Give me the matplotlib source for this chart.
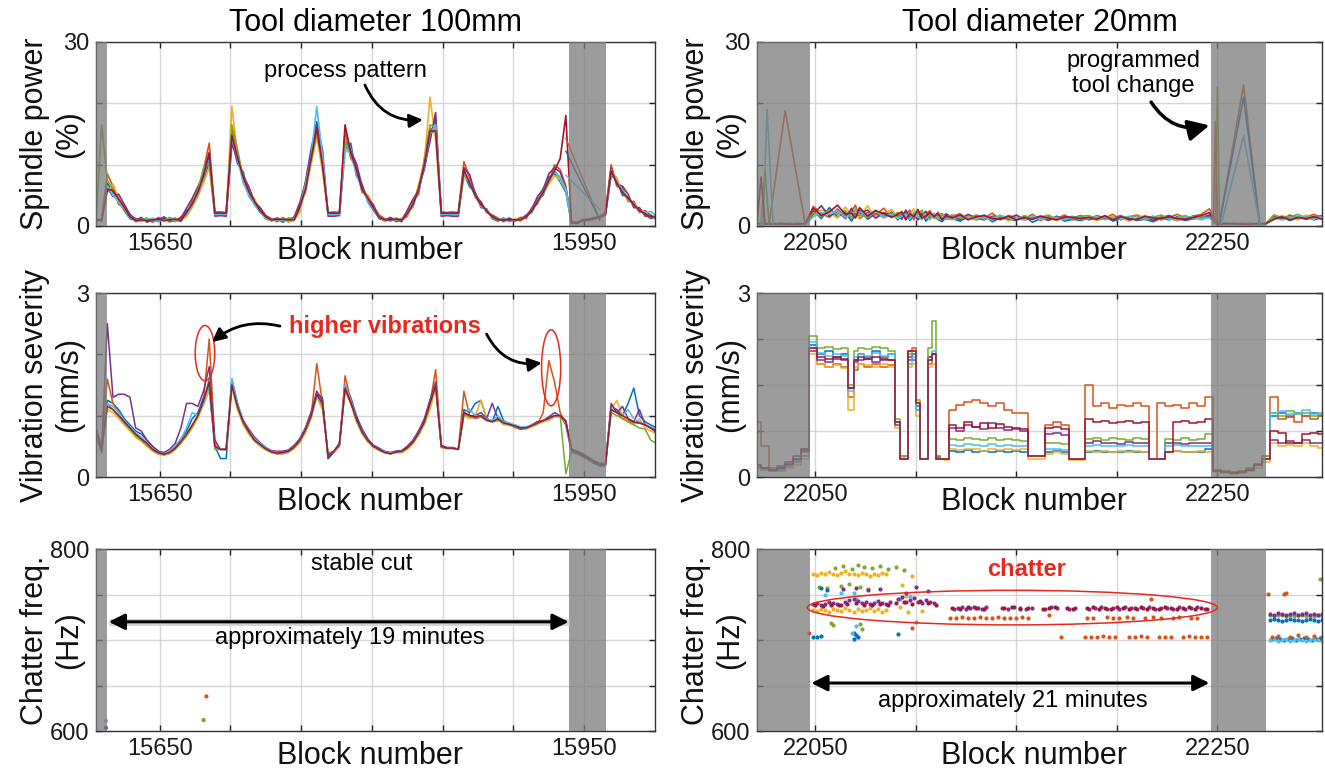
import numpy as np
import matplotlib
matplotlib.use('Agg')
import matplotlib.pyplot as plt
from matplotlib.patches import Ellipse, Rectangle

plt.rcParams['font.family'] = ['Liberation Sans', 'DejaVu Sans']

C = ['#0072BD', '#D95319', '#EDB120', '#7E2F8E', '#77AC30', '#4DBEEE', '#A2142F']

# ---------------- Left column (tool diameter 100mm) ----------------
lx = np.arange(15605, 16002, 4)   # block positions of samples

lp_blue = [1.2, 0.8, 7, 5.5, 4.2, 2.5, 1.2, 0.9, 1.4, 0.6,
           1.1, 0.7, 1.5, 0.9, 1.3, 0.8, 2.5, 3.2, 6.1, 7.5,
           10.5, 2.1, 2.0, 1.9, 14, 10.2, 8.8, 4.9, 3.6, 2.2,
           1.4, 0.8, 1.2, 0.6, 1.3, 1.0, 2.8, 7.2, 12.5, 17,
           11, 1.9, 2.0, 2.0, 12.5, 13.5, 8.2, 6.8, 4.0, 2.6,
           1.3, 0.9, 1.4, 0.7, 1.1, 2.4, 3.1, 6.5, 9.2, 14.5,
           17.5, 2.0, 2.1, 2.0, 2.0, 8.5, 6.4, 5.5, 3.0, 2.8,
           1.2, 0.8, 1.3, 0.7, 1.1, 0.9, 1.8, 2.2, 4.5, 5.0,
           8.0, 8.5, 7.2, 5.5, 0.4, 0.6, 0.8, 1.0, 1.1, 1.4,
           1.9, 8.2, 7.5, 5.0, 4.8, 3.2, 2.9, 1.8, 1.2, 1.6]
lp_orange = [0.8, 1.2, 8.5, 6.5, 3.5, 3.2, 1.8, 0.7, 0.9, 1.3,
             0.6, 1.4, 0.8, 1.2, 0.7, 1.5, 1.8, 4.2, 5.0, 9.2,
             13.5, 2.3, 2.3, 2.2, 16, 12, 7.5, 6.0, 3.8, 2.9,
             1.7, 1.2, 0.7, 1.4, 0.8, 1.5, 3.5, 5.5, 10.5, 15.5,
             9.5, 2.2, 2.3, 2.2, 15.5, 11, 9.8, 5.5, 5.0, 3.3,
             1.8, 1.2, 0.8, 1.3, 0.9, 1.6, 4.0, 5.2, 11, 16,
             15, 2.3, 2.2, 2.3, 2.2, 10.5, 7.8, 4.6, 4.0, 2.2,
             1.8, 1.3, 0.7, 1.2, 0.9, 1.4, 1.2, 3.0, 3.6, 6.2,
             7.0, 10, 9.2, 6.5, 0.6, 0.4, 1.1, 0.9, 1.3, 1.6,
             2.3, 10, 6.5, 6.2, 4.0, 4.0, 2.2, 2.5, 1.8, 1.2]
lp_yellow = [1.0, 1.1, 5.5, 6.8, 4.6, 2.8, 1.4, 1.3, 0.7, 1.0,
             1.3, 0.9, 1.1, 0.6, 1.2, 1.1, 1.5, 3.0, 4.8, 7.0,
             9.5, 1.8, 1.9, 1.8, 19.5, 11.5, 7.0, 5.2, 4.5, 2.4,
             1.1, 0.9, 1.0, 1.2, 0.6, 0.9, 2.2, 6.2, 10, 14.5,
             9.0, 1.8, 1.8, 1.9, 12, 12.5, 8.8, 6.2, 4.8, 2.8,
             1.6, 0.7, 1.1, 0.9, 1.2, 1.8, 3.2, 6.8, 10.5, 21,
             14, 1.8, 1.9, 1.8, 1.9, 8.0, 7.2, 4.8, 3.2, 2.6,
             1.4, 0.9, 1.0, 0.8, 1.2, 0.7, 1.6, 2.6, 4.2, 5.4,
             6.8, 8.2, 7.5, 5.8, 0.5, 0.7, 0.9, 1.2, 1.0, 1.7,
             2.1, 8.8, 7.9, 5.6, 4.2, 3.6, 2.6, 2.2, 1.4, 1.9]
lp_purple = [0.9, 1.0, 6.2, 4.8, 5.2, 3.5, 1.9, 1.1, 1.2, 0.8,
             0.9, 1.2, 1.3, 0.8, 0.9, 1.3, 2.9, 4.5, 6.4, 8.5,
             12, 1.6, 1.7, 1.6, 13.5, 10.8, 8.2, 6.4, 3.9, 3.0,
             1.6, 1.0, 1.3, 0.9, 1.1, 1.4, 3.8, 7.0, 11.8, 16.5,
             12.5, 1.6, 1.6, 1.7, 13.8, 12.2, 10.2, 6.5, 4.2, 3.5,
             1.2, 1.0, 1.3, 1.1, 0.7, 2.6, 4.4, 5.8, 9.6, 13.8,
             18.5, 1.6, 1.7, 1.6, 1.6, 9.5, 8.4, 5.2, 3.8, 2.4,
             1.6, 1.1, 0.9, 1.3, 0.8, 1.2, 1.7, 2.8, 4.8, 6.0,
             8.5, 9.5, 8.8, 6.2, 0.7, 0.5, 1.0, 1.1, 1.4, 1.3,
             1.8, 9.5, 6.8, 6.5, 5.2, 3.0, 3.0, 1.6, 1.7, 1.1]
lp_green = [1.1, 16.5, 7.5, 6.0, 3.8, 2.6, 1.6, 0.8, 1.1, 1.2,
            0.8, 1.0, 0.9, 1.4, 1.0, 0.7, 2.1, 3.8, 5.8, 9.5,
            10.2, 2.0, 2.0, 2.0, 16.5, 12.5, 7.8, 5.8, 3.4, 2.6,
            1.3, 1.1, 0.9, 0.8, 1.2, 1.1, 3.0, 6.8, 10.8, 15,
            10.5, 2.0, 2.0, 2.0, 14, 11.5, 9.0, 5.8, 4.4, 3.1,
            1.4, 1.1, 0.9, 1.2, 1.0, 2.1, 3.6, 6.2, 10.2, 16.5,
            16, 2.0, 2.0, 2.0, 2.0, 9.0, 6.8, 5.0, 3.4, 2.5,
            1.3, 1.0, 1.2, 0.9, 1.0, 1.1, 1.4, 2.4, 3.8, 5.2,
            7.2, 9.0, 7.8, 6.0, 0.5, 0.6, 1.0, 1.0, 1.2, 1.5,
            2.0, 9.2, 7.2, 5.8, 4.6, 3.4, 2.4, 2.0, 1.5, 1.3]
lp_lblue = [1.0, 0.9, 6.5, 5.0, 4.0, 3.0, 1.3, 1.0, 0.8, 1.1,
            1.2, 0.8, 1.0, 1.1, 0.8, 1.0, 1.9, 3.4, 5.2, 7.8,
            11.5, 1.9, 1.9, 1.9, 14.5, 11, 7.2, 5.0, 3.5, 2.3,
            1.2, 0.9, 1.1, 1.0, 0.9, 1.2, 2.9, 6.5, 11.2, 19.5,
            11.5, 1.9, 1.9, 1.9, 12.8, 11.8, 8.5, 6.0, 4.2, 2.9,
            1.5, 0.9, 1.0, 1.0, 1.1, 2.0, 3.4, 6.0, 9.8, 15,
            16.5, 1.9, 1.9, 1.9, 1.9, 8.8, 7.0, 4.9, 3.3, 2.6,
            1.4, 1.0, 1.1, 1.0, 0.9, 1.0, 1.5, 2.5, 4.0, 5.6,
            7.6, 8.8, 8.0, 5.9, 0.5, 0.6, 0.9, 1.1, 1.2, 1.4,
            2.0, 8.6, 7.4, 5.7, 4.4, 3.5, 2.5, 2.1, 2.4, 1.6]
lp_dred = [0.9, 1.0, 6.0, 5.8, 4.4, 3.1, 1.5, 0.9, 1.0, 0.9,
           1.0, 1.1, 0.9, 1.0, 1.1, 0.9, 2.2, 3.6, 5.5, 8.2,
           11.8, 2.1, 2.1, 2.1, 14.8, 11.2, 8.0, 5.6, 4.0, 2.5,
           1.5, 1.0, 1.1, 1.1, 1.0, 1.0, 3.1, 6.0, 11.0, 16,
           10.0, 2.1, 2.1, 2.1, 16.5, 12.0, 9.2, 6.0, 4.6, 3.0,
           1.5, 1.0, 1.0, 1.1, 1.0, 2.0, 3.5, 6.1, 10.0, 15.5,
           15.5, 2.1, 2.1, 2.1, 2.1, 9.2, 7.0, 5.0, 3.5, 2.5,
           1.5, 1.0, 1.0, 1.0, 1.0, 1.0, 1.5, 2.5, 4.0, 5.5,
           7.5, 9.0, 11, 18, 0.5, 0.5, 1.0, 1.0, 1.2, 1.5,
           2.0, 9.0, 7.0, 5.5, 4.5, 3.5, 2.5, 2.0, 1.5, 1.5]
# traces inside the right grey band (tool change)
lp_tc_x = [15937, 15961]
lp_tc_tan = [14.3, 1.0]
lp_tc_blue = [12.2, 1.0]
lp_tc_lblue = [8.3, 2.7]

lv_blue = [0.7, 0.4, 1.25, 1.2, 1.1, 0.95, 0.85, 0.75, 0.7, 0.6,
           0.5, 0.42, 0.36, 0.42, 0.5, 0.62, 0.75, 0.95, 1.05, 1.3,
           1.45, 0.5, 0.3, 0.3, 1.6, 1.2, 0.92, 0.75, 0.6, 0.55,
           0.45, 0.42, 0.38, 0.4, 0.43, 0.5, 0.62, 0.8, 1.05, 1.35,
           1.3, 0.3, 0.4, 0.55, 1.5, 1.3, 1.0, 0.78, 0.62, 0.5,
           0.46, 0.4, 0.38, 0.42, 0.42, 0.5, 0.6, 0.75, 0.92, 1.25,
           1.5, 0.5, 0.47, 0.47, 0.45, 1.1, 1.05, 1.2, 1.25, 0.95,
           0.9, 1.15, 0.92, 0.85, 0.85, 0.8, 0.8, 0.85, 0.9, 0.9,
           0.95, 1.0, 1.0, 0.85, 0.4, 0.38, 0.33, 0.28, 0.22, 0.18,
           0.18, 1.15, 1.1, 1.0, 1.2, 1.45, 1.0, 0.9, 0.85, 0.8]
lv_orange = [0.8, 0.5, 1.6, 1.2, 1.05, 0.9, 0.8, 0.65, 0.6, 0.55,
             0.45, 0.38, 0.36, 0.38, 0.45, 0.55, 0.68, 0.82, 1.0, 1.25,
             2.25, 0.55, 0.45, 0.45, 1.5, 1.15, 0.88, 0.72, 0.6, 0.52,
             0.45, 0.4, 0.38, 0.38, 0.4, 0.48, 0.58, 0.75, 0.98, 1.85,
             1.2, 0.35, 0.4, 0.5, 1.65, 1.25, 0.95, 0.72, 0.58, 0.5,
             0.44, 0.4, 0.38, 0.4, 0.4, 0.46, 0.55, 0.7, 0.88, 1.2,
             1.75, 0.5, 0.48, 0.48, 0.45, 1.4, 1.0, 0.95, 0.98, 0.92,
             0.9, 0.95, 0.88, 0.86, 0.82, 0.8, 0.8, 0.82, 0.86, 1.05,
             1.9, 1.55, 1.05, 0.88, 0.45, 0.4, 0.35, 0.3, 0.25, 0.2,
             0.2, 1.1, 1.05, 0.95, 0.92, 0.88, 0.88, 0.85, 0.8, 0.75]
lv_yellow = [0.7, 0.5, 1.1, 1.05, 0.95, 0.85, 0.75, 0.65, 0.58, 0.5,
             0.42, 0.37, 0.36, 0.38, 0.45, 0.55, 0.66, 0.8, 0.96, 1.18,
             1.4, 0.55, 0.45, 0.45, 1.45, 1.1, 0.85, 0.7, 0.58, 0.5,
             0.44, 0.4, 0.38, 0.38, 0.4, 0.46, 0.56, 0.72, 0.95, 1.3,
             1.1, 0.4, 0.42, 0.52, 1.4, 1.2, 0.9, 0.7, 0.58, 0.48,
             0.43, 0.4, 0.37, 0.4, 0.4, 0.45, 0.55, 0.68, 0.85, 1.1,
             1.45, 0.48, 0.46, 0.46, 0.45, 1.0, 0.95, 1.0, 1.25, 0.95,
             0.9, 0.95, 0.85, 0.85, 0.8, 0.78, 0.78, 0.82, 0.86, 0.9,
             0.92, 0.98, 0.98, 0.88, 0.45, 0.42, 0.36, 0.3, 0.26, 0.22,
             0.22, 1.1, 1.25, 1.0, 0.9, 0.85, 0.95, 0.8, 0.75, 0.7]
lv_purple = [0.75, 0.45, 2.5, 1.3, 1.35, 1.35, 1.3, 0.8, 0.75, 0.6,
             0.5, 0.42, 0.4, 0.45, 0.55, 0.8, 1.2, 1.2, 1.15, 1.4,
             1.8, 0.6, 0.45, 0.45, 1.55, 1.15, 0.92, 0.78, 0.65, 0.56,
             0.48, 0.43, 0.42, 0.42, 0.44, 0.52, 0.62, 0.8, 1.05, 1.4,
             1.25, 0.3, 0.42, 0.55, 1.45, 1.2, 0.98, 0.78, 0.62, 0.52,
             0.47, 0.42, 0.4, 0.42, 0.43, 0.5, 0.6, 0.75, 0.95, 1.25,
             1.55, 0.52, 0.48, 0.48, 0.45, 1.05, 1.0, 1.0, 1.05, 0.95,
             1.2, 0.95, 0.9, 0.88, 0.82, 0.78, 0.8, 0.85, 0.9, 0.92,
             0.98, 1.05, 1.0, 0.92, 0.45, 0.42, 0.38, 0.32, 0.26, 0.22,
             0.22, 1.2, 1.05, 1.15, 0.95, 0.9, 1.1, 0.85, 0.8, 0.72]
lv_green = [0.7, 0.5, 1.2, 1.1, 1.0, 0.88, 0.78, 0.68, 0.6, 0.52,
            0.44, 0.38, 0.37, 0.4, 0.46, 0.56, 0.68, 0.82, 1.0, 1.22,
            1.6, 0.45, 0.45, 0.45, 1.5, 1.12, 0.88, 0.72, 0.6, 0.52,
            0.45, 0.4, 0.38, 0.39, 0.42, 0.48, 0.58, 0.75, 0.98, 1.35,
            1.15, 0.38, 0.42, 0.52, 1.45, 1.22, 0.92, 0.72, 0.58, 0.5,
            0.44, 0.4, 0.38, 0.4, 0.41, 0.47, 0.56, 0.7, 0.88, 1.18,
            1.5, 0.48, 0.47, 0.47, 0.45, 1.02, 0.98, 0.96, 0.98, 0.92,
            0.9, 0.92, 0.88, 0.85, 0.82, 0.8, 0.8, 0.84, 0.88, 0.92,
            0.95, 1.0, 1.0, 0.05, 0.42, 0.38, 0.33, 0.28, 0.24, 0.2,
            0.2, 1.05, 1.0, 0.95, 0.9, 0.85, 0.8, 0.78, 0.6, 0.55]
lv_lblue = [0.72, 0.48, 1.2, 1.15, 1.05, 0.92, 0.82, 0.72, 0.65, 0.56,
            0.46, 0.4, 0.38, 0.42, 0.5, 0.62, 0.8, 1.05, 1.0, 1.2,
            1.5, 0.5, 0.45, 0.45, 1.6, 1.2, 0.9, 0.75, 0.62, 0.55,
            0.47, 0.42, 0.4, 0.4, 0.42, 0.5, 0.6, 0.78, 1.0, 1.3,
            1.2, 0.35, 0.42, 0.52, 1.5, 1.25, 0.95, 0.75, 0.6, 0.5,
            0.45, 0.41, 0.39, 0.41, 0.42, 0.48, 0.58, 0.72, 0.9, 1.2,
            1.5, 0.5, 0.47, 0.47, 0.45, 1.05, 1.1, 1.0, 1.0, 0.95,
            0.92, 1.0, 0.9, 0.88, 0.85, 0.82, 0.82, 0.85, 0.88, 0.92,
            0.95, 1.0, 1.0, 0.9, 0.45, 0.4, 0.35, 0.3, 0.25, 0.2,
            0.2, 1.1, 1.05, 1.0, 1.1, 0.95, 0.9, 0.85, 0.82, 0.78]
lv_dred = [0.75, 0.45, 1.15, 1.1, 1.0, 0.9, 0.8, 0.7, 0.62, 0.55,
           0.45, 0.4, 0.37, 0.4, 0.47, 0.58, 0.7, 0.85, 1.0, 1.25,
           1.55, 0.5, 0.45, 0.45, 1.5, 1.15, 0.9, 0.74, 0.6, 0.53,
           0.46, 0.41, 0.39, 0.4, 0.42, 0.49, 0.6, 0.77, 1.0, 1.35,
           1.2, 0.35, 0.42, 0.53, 1.45, 1.22, 0.95, 0.74, 0.6, 0.5,
           0.45, 0.4, 0.38, 0.41, 0.42, 0.48, 0.57, 0.72, 0.9, 1.2,
           1.5, 0.5, 0.47, 0.47, 0.45, 1.05, 1.0, 0.98, 1.0, 0.93,
           0.9, 0.95, 0.88, 0.86, 0.83, 0.8, 0.8, 0.84, 0.88, 0.92,
           0.96, 1.0, 1.0, 0.9, 0.45, 0.4, 0.35, 0.3, 0.25, 0.2,
           0.2, 1.1, 1.05, 1.0, 0.95, 0.9, 0.88, 0.85, 0.8, 0.75]

lc_x = [15612, 15612, 15683, 15681, 15681]
lc_y = [611, 603.5, 638, 612, 612]
lc_col = [C[5], C[3], C[1], C[2], C[4]]

# ---------------- Right column (tool diameter 20mm) ----------------
rx = [22021, 22025, 22029, 22033, 22037, 22041, 22045,
      22049, 22053, 22057, 22061, 22065, 22068, 22070, 22072, 22076, 22080, 22084, 22088,
      22091, 22093, 22095, 22097, 22099, 22101, 22103, 22105, 22107, 22109, 22111, 22113, 22115,
      22118, 22122, 22126, 22130, 22134, 22138, 22142, 22146, 22150, 22154, 22158, 22162, 22166, 22170, 22174, 22178, 22182,
      22186, 22190, 22194, 22198, 22202, 22206, 22210, 22214, 22218, 22222, 22226, 22230, 22234, 22238, 22242, 22246,
      22250, 22254, 22258, 22262, 22266, 22270, 22274,
      22278, 22282, 22286, 22290, 22294, 22298, 22302]

rp_blue = [0.3, 0.4, 0.3, 0.3, 0.4, 0.3, 0.4,
           2.5, 1.2, 3.0, 1.5, 2.2, 0.8, 1.9, 2.6, 1.1, 2.0, 1.4, 2.3,
           1.0, 1.8, 2.4, 0.9, 1.6, 1.2, 2.1, 0.8, 1.5, 2.0, 1.1, 0.7, 1.4,
           1.2, 0.8, 1.5, 1.0, 1.8, 0.7, 1.3, 1.1, 0.9, 1.6, 0.6, 1.2, 1.0, 1.5, 0.8, 1.1, 0.9,
           1.3, 1.0, 1.6, 0.8, 1.2, 1.4, 0.9, 1.1, 0.7, 1.3, 1.0, 1.5, 0.9, 1.2, 1.4, 1.8,
           0.3, 0.4, 0.3, 0.3, 0.4, 0.3, 0.4,
           1.2, 1.5, 0.9, 1.3, 1.6, 1.0, 1.4]
rp_orange = [0.4, 0.3, 0.4, 0.3, 0.3, 0.4, 0.3,
             3.2, 2.0, 1.4, 2.8, 1.6, 2.4, 3.4, 1.2, 2.2, 1.8, 2.9, 1.5,
             2.2, 1.3, 1.9, 2.6, 1.0, 2.3, 1.5, 1.9, 2.5, 1.2, 1.7, 2.0, 1.1,
             1.6, 2.0, 1.1, 1.8, 1.3, 2.1, 1.0, 1.7, 1.4, 1.2, 1.9, 0.9, 1.5, 1.2, 1.8, 1.0, 1.4,
             1.1, 1.7, 1.3, 1.9, 1.0, 1.5, 1.8, 1.2, 1.6, 1.0, 1.4, 1.9, 1.3, 1.6, 1.9, 2.8,
             0.4, 0.3, 0.4, 0.4, 0.3, 0.4, 0.3,
             1.6, 1.1, 1.8, 1.2, 1.5, 1.9, 1.3]
rp_yellow = [0.3, 0.3, 0.4, 0.4, 0.3, 0.3, 0.4,
             1.8, 2.6, 2.2, 1.3, 3.1, 1.7, 2.4, 1.5, 3.3, 1.2, 2.0, 2.7,
             1.5, 2.4, 1.2, 1.8, 2.8, 1.4, 1.0, 2.2, 1.6, 1.3, 2.3, 1.5, 1.8,
             1.0, 1.4, 1.7, 0.9, 1.5, 1.2, 1.8, 0.8, 1.3, 1.5, 1.0, 1.7, 1.2, 0.9, 1.4, 1.6, 1.1,
             1.5, 0.9, 1.2, 1.6, 1.3, 0.8, 1.4, 1.7, 1.1, 1.5, 1.2, 0.8, 1.6, 1.3, 1.0, 1.5,
             0.3, 0.3, 0.4, 0.3, 0.3, 0.4, 0.3,
             1.0, 1.7, 1.3, 1.0, 1.8, 1.2, 1.5]
rp_purple = [0.4, 0.4, 0.3, 0.4, 0.3, 0.4, 0.3,
             2.0, 3.3, 1.6, 2.4, 1.2, 2.9, 1.5, 2.0, 2.6, 1.3, 2.2, 1.7,
             1.7, 1.1, 2.6, 1.4, 2.0, 1.0, 1.8, 2.4, 1.2, 1.9, 1.4, 1.2, 2.0,
             1.4, 1.1, 1.9, 1.3, 1.0, 1.6, 1.4, 1.2, 1.8, 1.0, 1.3, 1.5, 0.9, 1.6, 1.1, 1.3, 1.7,
             1.0, 1.4, 1.1, 1.3, 1.7, 1.0, 1.2, 1.5, 0.9, 1.4, 1.7, 1.1, 1.0, 1.6, 1.2, 1.6,
             0.4, 0.4, 0.3, 0.4, 0.4, 0.3, 0.3,
             1.4, 1.2, 1.6, 1.5, 1.1, 1.4, 1.7]
rp_green = [0.3, 0.4, 0.4, 0.3, 0.4, 0.3, 0.4,
            2.2, 1.5, 2.7, 1.9, 2.5, 1.3, 2.8, 1.8, 1.4, 2.4, 1.6, 2.1,
            1.4, 2.1, 1.5, 2.2, 1.3, 1.8, 2.6, 1.2, 1.9, 1.6, 1.0, 1.8, 1.5,
            1.8, 1.3, 1.2, 1.7, 1.1, 1.4, 1.6, 1.3, 1.1, 1.7, 1.2, 1.4, 1.8, 1.1, 1.5, 1.2, 1.6,
            1.7, 1.2, 1.5, 1.1, 1.6, 1.3, 1.7, 1.0, 1.4, 1.8, 1.1, 1.3, 1.7, 1.1, 1.5, 1.3,
            0.4, 0.3, 0.3, 0.4, 0.3, 0.3, 0.4,
            1.8, 1.4, 1.5, 1.9, 1.3, 1.6, 1.2]
rp_lblue = [0.3, 0.3, 0.3, 0.4, 0.3, 0.4, 0.3,
            1.5, 2.2, 1.9, 2.5, 1.4, 2.0, 1.6, 2.3, 1.8, 2.6, 1.3, 1.9,
            1.2, 1.6, 1.9, 1.1, 2.2, 1.5, 1.2, 1.7, 1.0, 2.1, 1.3, 1.6, 1.1,
            1.1, 1.6, 1.3, 1.2, 1.5, 1.0, 1.7, 1.4, 1.2, 1.0, 1.6, 1.1, 1.3, 1.4, 1.0, 1.5, 1.2,
            1.2, 1.5, 1.0, 1.4, 1.1, 1.6, 1.0, 1.3, 1.5, 1.1, 1.3, 1.0, 1.4, 1.5, 1.1, 1.4,
            0.3, 0.4, 0.3, 0.3, 0.4, 0.4, 0.3,
            1.3, 1.0, 1.2, 1.6, 1.4, 1.1, 1.6]
rp_dred = [0.4, 0.3, 0.3, 0.4, 0.3, 0.3, 0.4,
           2.9, 1.7, 2.3, 3.4, 1.9, 2.1, 1.3, 3.0, 1.6, 2.5, 2.0, 1.4,
           1.9, 2.3, 1.0, 2.0, 1.5, 2.7, 1.3, 1.6, 2.2, 1.5, 2.1, 1.0, 1.7,
           1.3, 1.8, 1.0, 1.5, 1.7, 1.2, 1.1, 1.6, 1.0, 1.4, 1.1, 1.6, 1.3, 1.0, 1.5, 1.4, 1.2,
           1.4, 1.1, 1.7, 1.0, 1.5, 1.2, 1.0, 1.6, 1.3, 1.2, 1.5, 1.2, 1.1, 1.4, 1.7, 2.2,
           0.3, 0.4, 0.4, 0.3, 0.3, 0.4, 0.4,
           1.1, 1.5, 1.0, 1.4, 1.2, 1.5, 1.1]
# tool-change traces inside the grey bands
rp_tc = [  # (colour index, blocks, values)
    (1, [22027, 22035, 22045], [0.3, 18.8, 0.3]),
    (5, [22024, 22026, 22029], [0.3, 19.0, 0.3]),
    (4, [22023, 22025, 22027], [0.3, 9.0, 0.3]),
    (6, [22021, 22023, 22025], [0.3, 8.0, 0.3]),
    (1, [22251, 22263, 22271], [0.5, 23.0, 0.3]),
    (0, [22251, 22263, 22271], [0.5, 21.0, 0.3]),
    (5, [22252, 22263, 22271], [0.5, 14.7, 0.3]),
    (4, [22249, 22250, 22251], [0.5, 22.7, 0.5]),
    (1, [22248, 22249, 22250], [0.5, 17.0, 0.5]),
]

rv_blue = [0.15, 0.12, 0.1, 0.12, 0.18, 0.25, 0.35,
           2.15, 2.0, 2.05, 1.95, 2.0, 1.45, 1.9, 2.0, 1.95, 2.05, 1.95, 2.0,
           0.9, 0.3, 0.3, 1.9, 2.0, 1.1, 0.3, 0.3, 1.95, 2.0, 0.3, 0.3, 0.3,
           0.42, 0.4, 0.44, 0.4, 0.42, 0.4, 0.43, 0.4, 0.42, 0.4, 0.35, 0.35, 0.4, 0.42, 0.4, 0.3, 0.3,
           0.4, 0.42, 0.4, 0.41, 0.4, 0.42, 0.4, 0.4, 0.3, 0.3, 0.4, 0.42, 0.4, 0.41, 0.4, 0.45,
           0.1, 0.08, 0.06, 0.08, 0.12, 0.2, 0.3,
           1.0, 1.05, 0.98, 1.05, 1.0, 1.05, 1.0]
rv_orange = [0.9, 0.5, 0.15, 0.15, 0.2, 0.3, 0.45,
             2.1, 1.85, 1.8, 1.85, 1.8, 1.3, 1.75, 1.85, 1.8, 1.85, 1.8, 1.82,
             0.9, 0.35, 0.35, 2.05, 2.1, 1.2, 0.3, 0.3, 1.85, 2.0, 0.35, 0.3, 0.3,
             1.1, 1.18, 1.22, 1.25, 1.2, 1.15, 1.2, 1.1, 1.05, 1.05, 0.35, 0.35, 0.85, 0.9, 0.85, 0.3, 0.3,
             1.5, 1.15, 1.2, 1.12, 1.18, 1.15, 1.2, 1.15, 0.3, 1.2, 1.15, 1.18, 1.12, 1.2, 1.15, 1.3,
             0.12, 0.1, 0.08, 0.1, 0.15, 0.22, 0.35,
             1.3, 0.95, 1.0, 0.9, 1.0, 0.95, 1.0]
rv_yellow = [0.15, 0.12, 0.1, 0.1, 0.15, 0.2, 0.3,
             2.0, 1.85, 1.8, 1.82, 1.78, 1.1, 1.8, 1.85, 1.82, 1.8, 1.85, 1.8,
             0.8, 0.3, 0.3, 1.8, 1.85, 1.0, 0.3, 0.3, 1.8, 1.85, 0.3, 0.3, 0.28,
             0.45, 0.44, 0.46, 0.45, 0.43, 0.45, 0.44, 0.46, 0.44, 0.45, 0.3, 0.3, 0.38, 0.4, 0.38, 0.28, 0.28,
             0.42, 0.4, 0.42, 0.41, 0.43, 0.4, 0.42, 0.41, 0.3, 0.3, 0.4, 0.42, 0.41, 0.4, 0.42, 0.4,
             0.08, 0.06, 0.05, 0.06, 0.1, 0.15, 0.25,
             0.55, 0.5, 0.52, 0.5, 0.55, 0.5, 0.48]
rv_purple = [0.2, 0.15, 0.12, 0.18, 0.25, 0.35, 0.45,
             2.05, 1.9, 1.88, 1.92, 1.9, 1.45, 1.88, 1.9, 1.92, 1.88, 1.9, 1.9,
             0.85, 0.3, 0.3, 1.95, 1.9, 1.15, 0.3, 0.3, 1.95, 2.0, 0.32, 0.3, 0.3,
             0.8, 0.75, 0.85, 0.82, 0.78, 0.88, 0.8, 0.76, 0.78, 0.75, 0.35, 0.35, 0.7, 0.72, 0.68, 0.3, 0.3,
             0.55, 0.58, 0.55, 0.56, 0.54, 0.57, 0.55, 0.56, 0.3, 0.3, 0.55, 0.56, 0.54, 0.55, 0.56, 0.55,
             0.1, 0.08, 0.06, 0.08, 0.12, 0.2, 0.3,
             0.6, 0.55, 0.58, 0.55, 0.6, 0.56, 0.55]
rv_green = [0.18, 0.15, 0.12, 0.15, 0.2, 0.28, 0.4,
            2.3, 2.1, 2.12, 2.08, 2.1, 1.5, 2.05, 2.1, 2.08, 2.12, 2.1, 2.05,
            0.95, 0.3, 0.35, 2.0, 2.05, 1.25, 0.3, 0.3, 2.1, 2.55, 0.35, 0.3, 0.3,
            0.62, 0.6, 0.64, 0.62, 0.6, 0.63, 0.6, 0.62, 0.6, 0.58, 0.35, 0.35, 0.55, 0.56, 0.54, 0.3, 0.3,
            0.62, 0.64, 0.6, 0.63, 0.62, 0.6, 0.64, 0.62, 0.3, 0.3, 0.62, 0.6, 0.63, 0.6, 0.62, 0.7,
            0.12, 0.1, 0.08, 0.1, 0.14, 0.22, 0.35,
            1.05, 1.0, 1.08, 1.02, 1.05, 1.0, 1.02]
rv_lblue = [0.15, 0.12, 0.1, 0.12, 0.18, 0.25, 0.35,
            2.2, 2.02, 1.98, 2.0, 1.98, 1.4, 1.95, 2.0, 1.98, 2.02, 1.98, 2.0,
            0.9, 0.3, 0.3, 1.85, 1.95, 1.1, 0.3, 0.3, 1.9, 2.05, 0.3, 0.3, 0.3,
            0.52, 0.5, 0.54, 0.52, 0.5, 0.53, 0.5, 0.52, 0.5, 0.5, 0.35, 0.35, 0.45, 0.46, 0.44, 0.3, 0.3,
            0.5, 0.52, 0.5, 0.51, 0.5, 0.52, 0.5, 0.5, 0.3, 0.3, 0.5, 0.52, 0.5, 0.51, 0.5, 0.5,
            0.1, 0.08, 0.06, 0.08, 0.12, 0.2, 0.3,
            1.05, 1.08, 1.02, 1.05, 1.1, 1.02, 1.05]
rv_dred = [0.2, 0.15, 0.12, 0.15, 0.22, 0.3, 0.42,
           2.1, 1.95, 1.92, 1.95, 1.92, 1.45, 1.9, 1.95, 1.92, 1.95, 1.92, 1.9,
           0.9, 0.3, 0.3, 2.05, 2.05, 1.2, 0.3, 0.3, 1.9, 2.0, 0.3, 0.3, 0.3,
           0.85, 0.8, 0.9, 0.82, 0.88, 0.8, 0.86, 0.82, 0.8, 0.78, 0.35, 0.35, 0.8, 0.82, 0.78, 0.3, 0.3,
           0.95, 0.9, 0.92, 0.88, 0.9, 0.92, 0.88, 0.9, 0.3, 0.3, 0.4, 0.9, 0.92, 0.88, 0.9, 0.95,
           0.1, 0.08, 0.06, 0.08, 0.12, 0.2, 0.3,
           0.75, 0.72, 0.55, 0.55, 0.7, 0.72, 0.7]

# chatter frequency points (right)
ch_yel_x = [22049, 22051, 22053, 22055, 22057, 22059, 22061, 22063, 22065, 22067, 22069, 22071, 22073, 22075,
            22077, 22079, 22081, 22083, 22085, 22093, 22095, 22098,
            22049, 22051, 22053, 22055, 22057, 22059, 22061, 22063, 22065, 22067, 22069, 22071, 22073, 22075,
            22077, 22079, 22081, 22083, 22085, 22092, 22096, 22103]
ch_yel_y = [773, 771, 774, 772, 775, 773, 771, 774, 776, 772, 773, 771, 774, 772,
            770, 773, 771, 774, 772, 760, 748, 770,
            733, 732, 734, 733, 731, 734, 733, 732, 735, 733, 731, 734, 732, 733,
            735, 732, 734, 731, 733, 736, 731, 732]
ch_grn_x = [22060, 22064, 22068, 22071, 22074, 22078, 22082, 22086, 22090, 22094,
            22052, 22056, 22063, 22067, 22072, 22076, 22058, 22059, 22072, 22073, 22100, 22301,
            22276, 22278, 22280, 22282, 22284, 22286, 22288, 22290, 22292, 22294, 22296, 22298, 22300, 22302]
ch_grn_y = [779, 781, 778, 782, 780, 779, 781, 778, 780, 777,
            758, 757, 759, 762, 758, 756, 719, 717, 718, 712, 720, 767,
            727, 726, 727, 728, 726, 727, 726, 727, 728, 726, 727, 726, 727, 726]
ch_pur_x = [22049, 22051, 22053, 22055, 22057, 22059, 22061, 22063, 22065, 22067,
            22069, 22071, 22073, 22075, 22077, 22079, 22081, 22083, 22085, 22087,
            22091, 22093, 22095, 22097, 22099, 22101, 22103, 22105, 22107, 22109,
            22064, 22070, 22076, 22082, 22095, 22100, 22106,
            22119, 22121, 22123, 22125, 22127, 22129, 22131, 22133, 22135, 22143,
            22146, 22149, 22152, 22155, 22158, 22164, 22167, 22170, 22176, 22179,
            22186, 22189, 22192, 22195, 22198, 22201, 22204, 22207, 22210, 22213,
            22216, 22219, 22222, 22225, 22228, 22231, 22234, 22237, 22240, 22244,
            22276, 22278, 22280, 22282, 22284, 22286, 22288, 22290, 22292, 22294, 22296, 22298, 22300, 22302]
ch_pur_y = [740, 741, 739, 740, 742, 741, 740, 739, 742, 744,
            745, 743, 741, 742, 740, 741, 743, 741, 740, 742,
            745, 747, 742, 744, 746, 742, 741, 744, 742, 741,
            756, 757, 755, 756, 752, 758, 754,
            734, 735, 736, 734, 735, 736, 735, 734, 736, 735,
            734, 736, 735, 734, 735, 734, 736, 735, 734, 735,
            734, 735, 736, 734, 735, 734, 736, 735, 734, 735,
            736, 734, 735, 735, 734, 736, 734, 735, 736, 734,
            729, 728, 730, 729, 728, 729, 730, 728, 729, 730, 728, 729, 728, 729]
ch_red_x = [22050, 22054, 22058, 22062, 22066, 22070, 22074, 22078, 22082, 22086,
            22090, 22094, 22098, 22102, 22106, 22110,
            22118, 22122, 22126, 22130, 22134, 22144, 22148, 22152, 22156, 22163,
            22166, 22169, 22175, 22178, 22185, 22188, 22191, 22194, 22197, 22200,
            22203, 22206, 22209, 22212, 22215, 22218, 22221, 22224, 22227, 22230,
            22233, 22236, 22239, 22242, 22245]
ch_red_y = [738, 737, 739, 738, 740, 741, 739, 738, 740, 739,
            741, 742, 740, 743, 741, 739,
            735, 734, 736, 735, 734, 735, 736, 734, 735, 734,
            735, 736, 735, 734, 735, 736, 734, 735, 734, 736,
            735, 734, 735, 736, 734, 735, 734, 736, 735, 734,
            735, 736, 734, 735, 734]
ch_org_x = [22117, 22120, 22123, 22126, 22129, 22132, 22135, 22138, 22141, 22144,
            22147, 22150, 22153, 22156, 22166, 22185, 22188, 22195, 22198, 22201,
            22205, 22208, 22214, 22218, 22222, 22228, 22231, 22237, 22240,
            22172, 22184, 22187, 22190, 22193, 22196, 22199, 22206, 22209, 22212,
            22215, 22221, 22224, 22227, 22233, 22236, 22239, 22242, 22245,
            22217, 22098, 22047,
            22275, 22283, 22284, 22277, 22280, 22286, 22290, 22294, 22298, 22302]
ch_org_y = [724, 724, 725, 724, 724, 725, 724, 724, 725, 724,
            724, 724, 725, 724, 728, 724, 724, 725, 724, 724,
            725, 724, 724, 725, 724, 724, 725, 724, 724,
            703, 703, 703, 703, 704, 703, 703, 703, 703, 704,
            703, 703, 703, 703, 703, 704, 703, 703, 703,
            745.5, 713, 708,
            751, 751, 752, 703, 704, 703, 705, 703, 704, 703]
ch_blu_x = [22049, 22051, 22053, 22069, 22070, 22071, 22069, 22091, 22053, 22056,
            22276, 22278, 22280, 22282, 22284, 22286, 22288, 22290, 22292, 22294, 22296, 22298, 22300, 22302,
            22277, 22279, 22281, 22283, 22285, 22287, 22289, 22291, 22293, 22295, 22297, 22299, 22301]
ch_blu_y = [703, 703, 704, 701, 705, 703, 708, 707, 757, 755,
            722, 723, 722, 721, 722, 723, 722, 722, 721, 722, 723, 722, 721, 722,
            701, 702, 701, 700, 701, 702, 700, 701, 702, 701, 700, 701, 702]
ch_lbl_x = [22068, 22069, 22070, 22070, 22092, 22097, 22055, 22063,
            22276, 22278, 22280, 22282, 22284, 22286, 22288, 22290, 22292, 22294, 22296, 22298, 22300, 22302]
ch_lbl_y = [708, 752, 745, 715, 745, 748, 750, 752,
            700, 701, 699, 700, 701, 699, 700, 701, 700, 699, 700, 701, 700, 699]

# ---------------- drawing ----------------
W, H = 1325, 772
fig = plt.figure(figsize=(W / 100, H / 100), dpi=100)


def rect(x0, x1, y0, y1):
    return [x0 / W, 1 - y1 / H, (x1 - x0) / W, (y1 - y0) / H]


cols = [(96, 655), (757, 1322)]
rows = [(42, 226), (293, 477), (549, 731)]
axs = [[fig.add_axes(rect(c[0], c[1], r[0], r[1])) for c in cols] for r in rows]

LXLIM = (15605, 16000)
RXLIM = (22021, 22302)
LGRAY = [(15605, 15613), (15939.5, 15965.6)]
RGRAY = [(22021, 22047.5), (22246.8, 22274)]
LXT = [15650, 15700, 15750, 15800, 15850, 15900, 15950]
LXL = ['15650', '', '', '', '', '', '15950']
RXT = [22050, 22100, 22150, 22200, 22250]
RXL = ['22050', '', '', '', '22250']

ylabels = [('Spindle power', '(%)'), ('Vibration severity', '(mm/s)'), ('Chatter freq.', '(Hz)')]


def style(ax, xlim, xt, xl, ylim, yt, yl, gray, ylab):
    ax.set_xlim(*xlim)
    ax.set_ylim(*ylim)
    ax.set_xticks(xt)
    ax.set_xticklabels(xl)
    ax.set_yticks(yt)
    ax.set_yticklabels(yl)
    ax.grid(True, color='#d6d6d6', lw=1.0)
    ax.set_axisbelow(True)
    ax.tick_params(direction='in', length=4, width=1, top=True, right=True,
                   labelsize=17, pad=5, color='#222222', labelcolor='#1a1a1a')
    for s in ax.spines.values():
        s.set_color('#333333')
        s.set_linewidth(1.0)
    for g0, g1 in gray:
        ax.add_patch(Rectangle((g0, ylim[0]), g1 - g0, ylim[1] - ylim[0],
                               facecolor='#7b7b7b', edgecolor='none', alpha=0.75, zorder=3))
    ax.text(0.49, -0.135, 'Block number', transform=ax.transAxes, ha='center', va='center',
            fontsize=22, color='#111111')
    w = ax.get_position().width * W
    ax.text(-61.0 / w, 0.5, ylab[0], transform=ax.transAxes, ha='center', va='center',
            rotation=90, fontsize=22, color='#111111')
    ax.text(-27.0 / w, 0.5, ylab[1], transform=ax.transAxes, ha='center', va='center',
            rotation=90, fontsize=22, color='#111111')


def lines(ax, x, series, lw=1.0, ds='default'):
    for i, s in enumerate(series):
        ax.plot(x, s, color=C[i], lw=lw, drawstyle=ds, zorder=2)


# Row 1: spindle power
ax = axs[0][0]
lines(ax, lx, [lp_blue, lp_orange, lp_yellow, lp_purple, lp_green, lp_lblue, lp_dred], lw=1.2)
ax.plot(lp_tc_x, lp_tc_tan, color=C[1], lw=1, zorder=2)
ax.plot(lp_tc_x, lp_tc_blue, color=C[0], lw=1, zorder=2)
ax.plot(lp_tc_x, lp_tc_lblue, color=C[5], lw=1, zorder=2)
style(ax, LXLIM, LXT, LXL, (0, 30), [0, 10, 20, 30], ['0', '', '', '30'], LGRAY, ylabels[0])
ax.set_title('Tool diameter 100mm', fontsize=22, pad=8)
ax.text(15781, 25.3, 'process pattern', fontsize=17, ha='center', va='center', zorder=6)
ax.annotate('', xy=(15836, 17.3), xytext=(15795, 23.0),
            arrowprops=dict(arrowstyle='-|>', color='k', lw=2, mutation_scale=20,
                            connectionstyle='arc3,rad=0.35', shrinkA=0, shrinkB=0), zorder=6)

ax = axs[0][1]
lines(ax, rx, [rp_blue, rp_orange, rp_yellow, rp_purple, rp_green, rp_lblue, rp_dred], lw=1.2)
for ci, bx, by in rp_tc:
    ax.plot(bx, by, color=C[ci], lw=1.2, zorder=2)
style(ax, RXLIM, RXT, RXL, (0, 30), [0, 10, 20, 30], ['0', '', '', '30'], RGRAY, ylabels[0])
ax.set_title('Tool diameter 20mm', fontsize=22, pad=8)
ax.text(22208, 24.9, 'programmed\ntool change', fontsize=17, ha='center', va='center',
        linespacing=1.15, zorder=6)
ax.annotate('', xy=(22246, 16.4), xytext=(22217, 20.2),
            arrowprops=dict(arrowstyle='-|>', color='k', lw=2.5, mutation_scale=32,
                            connectionstyle='arc3,rad=0.35', shrinkA=0, shrinkB=0), zorder=6)

# Row 2: vibration severity
RED = '#E8281E'
ax = axs[1][0]
lines(ax, lx, [lv_blue, lv_orange, lv_yellow, lv_purple, lv_green, lv_lblue, lv_dred], lw=1.1)
style(ax, LXLIM, LXT, LXL, (0, 3), [0, 1, 2, 3], ['0', '', '', '3'], LGRAY, ylabels[1])
ax.text(15809, 2.46, 'higher vibrations', fontsize=17, fontweight='bold', color=RED,
        ha='center', va='center', zorder=6)
ax.add_patch(Ellipse((15682, 2.02), 13.8, 0.9, fill=False, ec=RED, lw=1.1, zorder=6))
ax.add_patch(Ellipse((15926.6, 1.78), 13.5, 1.24, fill=False, ec=RED, lw=1.1, zorder=6))
ax.annotate('', xy=(15687, 2.2), xytext=(15735, 2.46),
            arrowprops=dict(arrowstyle='-|>', color='k', lw=2, mutation_scale=20,
                            connectionstyle='arc3,rad=0.25', shrinkA=0, shrinkB=0), zorder=6)
ax.annotate('', xy=(15920, 1.86), xytext=(15881, 2.33),
            arrowprops=dict(arrowstyle='-|>', color='k', lw=2, mutation_scale=20,
                            connectionstyle='arc3,rad=0.35', shrinkA=0, shrinkB=0), zorder=6)

ax = axs[1][1]
lines(ax, rx, [rv_blue, rv_orange, rv_yellow, rv_purple, rv_green, rv_lblue, rv_dred], lw=1.1, ds='steps-mid')
style(ax, RXLIM, RXT, RXL, (0, 3), [0, 0.75, 1.5, 2.25, 3], ['0', '', '', '', '3'], RGRAY, ylabels[1])

# Row 3: chatter frequency
ax = axs[2][0]
ax.scatter(lc_x, lc_y, s=9, c=lc_col, zorder=2, linewidths=0)
style(ax, LXLIM, LXT, LXL, (600, 800), [600, 650, 700, 750, 800], ['600', '', '', '', '800'],
      LGRAY, ylabels[2])
ax.text(15793, 783.6, 'stable cut', fontsize=17, ha='center', va='center', zorder=6)
ax.plot([15614, 15939], [720, 720], color='#d4d4d4', lw=5, zorder=4, solid_capstyle='butt')
ax.annotate('', xy=(15614, 720), xytext=(15939, 720),
            arrowprops=dict(arrowstyle='<|-|>', color='k', lw=2.2, mutation_scale=24,
                            shrinkA=0, shrinkB=0), zorder=6)
ax.text(15784, 702, 'approximately 19 minutes', fontsize=17, ha='center', va='center', zorder=6)

ax = axs[2][1]
for xs, ys, ci in [(ch_yel_x, ch_yel_y, 2), (ch_grn_x, ch_grn_y, 4), (ch_blu_x, ch_blu_y, 0),
                   (ch_lbl_x, ch_lbl_y, 5), (ch_org_x, ch_org_y, 1), (ch_pur_x, ch_pur_y, 3),
                   (ch_red_x, ch_red_y, 6)]:
    ax.scatter(xs, ys, s=9, color=C[ci], zorder=2, linewidths=0)
style(ax, RXLIM, RXT, RXL, (600, 800), [600, 650, 700, 750, 800], ['600', '', '', '', '800'],
      RGRAY, ylabels[2])
ax.text(22155, 778, 'chatter', fontsize=17, fontweight='bold', color=RED,
        ha='center', va='center', zorder=6)
ax.add_patch(Ellipse((22148, 735.6), 204, 38, fill=False, ec=RED, lw=1.1, zorder=6))
ax.annotate('', xy=(22048, 652.7), xytext=(22246, 652.7),
            arrowprops=dict(arrowstyle='<|-|>', color='k', lw=2.2, mutation_scale=24,
                            shrinkA=0, shrinkB=0), zorder=6)
ax.text(22148, 632.7, 'approximately 21 minutes', fontsize=17, ha='center', va='center', zorder=6)

fig.savefig('out.png', dpi=100)
